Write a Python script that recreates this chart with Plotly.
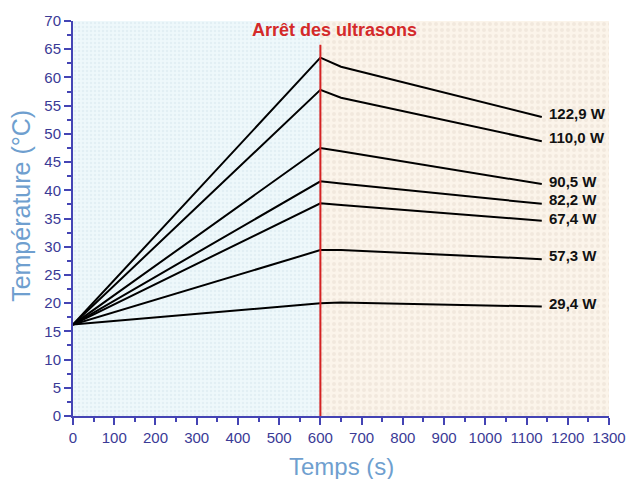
import plotly.graph_objects as go

# Temperature rise during sonication (0-600 s) and cooling after the ultrasound stops
powers = ["122,9 W", "110,0 W", "90,5 W", "82,2 W", "67,4 W", "57,3 W", "29,4 W"]
t_points = [0, 600, 650, 1137]
temp_start = [16.2, 16.2, 16.2, 16.2, 16.2, 16.2, 16.2]
temp_peak = [63.5, 57.8, 47.5, 41.6, 37.7, 29.4, 20.0]
temp_650 = [61.9, 56.4, 46.9, 41.2, 37.4, 29.4, 20.1]
temp_end = [53.0, 48.7, 41.1, 37.6, 34.6, 27.8, 19.4]
label_y = [53.6, 49.4, 41.5, 38.3, 35.0, 28.5, 20.0]

stop_time = 600
x_max = 1300
y_max = 70

fig = go.Figure()

# Shaded backgrounds: sonication phase (left) and cooling phase (right)
fig.add_trace(go.Bar(
    x=[stop_time / 2], y=[y_max], width=[stop_time],
    marker=dict(color="#eef8fb", line=dict(width=0),
                pattern=dict(shape=".", fgcolor="#d6e5ec", fillmode="overlay",
                             size=4, solidity=0.3)),
    hoverinfo="skip", showlegend=False))
fig.add_trace(go.Bar(
    x=[(stop_time + x_max) / 2], y=[y_max], width=[x_max - stop_time],
    marker=dict(color="#fbf4ea", line=dict(width=0),
                pattern=dict(shape=".", fgcolor="#e8dccf", fillmode="overlay",
                             size=6, solidity=0.35)),
    hoverinfo="skip", showlegend=False))

for i, p in enumerate(powers):
    fig.add_trace(go.Scatter(
        x=t_points,
        y=[temp_start[i], temp_peak[i], temp_650[i], temp_end[i]],
        mode="lines", line=dict(color="black", width=2),
        name=p, showlegend=False))
    fig.add_annotation(x=1150, y=label_y[i], text="<b>%s</b>" % p,
                       showarrow=False, xanchor="left", yanchor="middle",
                       font=dict(family="Arial", size=15, color="#111111"))

# Vertical marker for the end of sonication
fig.add_shape(type="line", x0=stop_time, x1=stop_time, y0=0, y1=65.8,
              line=dict(color="#d42222", width=2))
fig.add_annotation(x=634, y=68.4, text="<b>Arrêt des ultrasons</b>",
                   showarrow=False, xanchor="center", yanchor="middle",
                   font=dict(family="Arial", size=18, color="#d42a2a"))

axis_col = "#4444b4"
tick_font = dict(family="Arial", size=15, color="#3a3a96")
title_col = "#6f9fcf"

# Axis titles
fig.add_annotation(xref="paper", yref="paper", x=0.5, y=-0.129,
                   text="Temps (s)", showarrow=False,
                   xanchor="center", yanchor="middle",
                   font=dict(family="Arial", size=24, color=title_col))
fig.add_annotation(xref="paper", yref="paper", x=-0.097, y=0.532,
                   text="Température (°C)", showarrow=False, textangle=-90,
                   xanchor="center", yanchor="middle",
                   font=dict(family="Arial", size=25, color=title_col))

fig.update_layout(
    width=626, height=479,
    margin=dict(l=73, r=17, t=21, b=63, autoexpand=False),
    paper_bgcolor="white", plot_bgcolor="white",
    barmode="overlay", bargap=0,
    xaxis=dict(range=[0, x_max], tickmode="linear", tick0=0, dtick=100,
               automargin=False,
               showgrid=False, zeroline=False, showline=True,
               linecolor=axis_col, linewidth=2, ticks="outside",
               ticklen=7, tickwidth=2, tickcolor=axis_col, tickfont=tick_font,
               minor=dict(ticks="outside", ticklen=4, tickwidth=1.5,
                          tickcolor=axis_col, dtick=50, showgrid=False)),
    yaxis=dict(range=[0, y_max], tickmode="linear", tick0=0, dtick=5,
               automargin=False,
               showgrid=False, zeroline=False, showline=True,
               linecolor=axis_col, linewidth=2, ticks="outside",
               ticklen=7, tickwidth=2, tickcolor=axis_col, tickfont=tick_font,
               minor=dict(ticks="outside", ticklen=4, tickwidth=1.5,
                          tickcolor=axis_col, dtick=2.5, showgrid=False)),
)

fig.write_html("out.html")
